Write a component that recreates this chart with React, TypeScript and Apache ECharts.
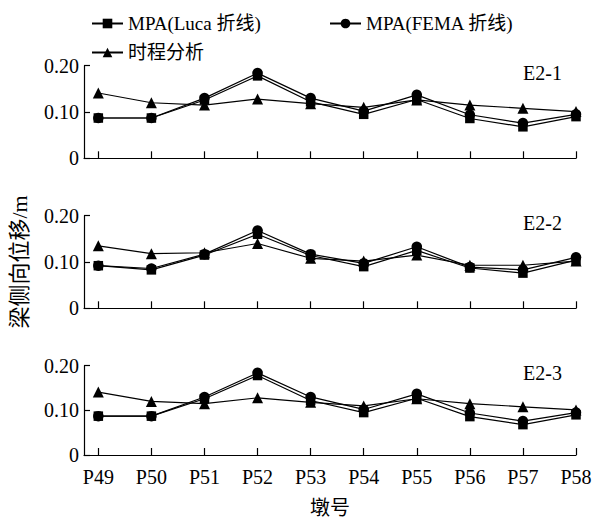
import React, { useEffect, useRef } from "react";
import * as echarts from "echarts";

const categories = ["P49", "P50", "P51", "P52", "P53", "P54", "P55", "P56", "P57", "P58"];
const seriesNames = ["MPA(Luca 折线)", "MPA(FEMA 折线)", "时程分析"];
const panelLabels = ["E2-1", "E2-2", "E2-3"];

const lucaE21 = [0.087, 0.087, 0.126, 0.178, 0.122, 0.095, 0.127, 0.086, 0.068, 0.090];
const femaE21 = [0.087, 0.087, 0.130, 0.184, 0.130, 0.102, 0.137, 0.094, 0.076, 0.095];
const thE21 = [0.141, 0.120, 0.115, 0.128, 0.118, 0.110, 0.126, 0.115, 0.108, 0.101];

const lucaE22 = [0.092, 0.083, 0.115, 0.160, 0.114, 0.090, 0.125, 0.087, 0.076, 0.104];
const femaE22 = [0.092, 0.086, 0.117, 0.168, 0.117, 0.097, 0.133, 0.089, 0.083, 0.110];
const thE22 = [0.135, 0.118, 0.120, 0.140, 0.108, 0.102, 0.115, 0.093, 0.093, 0.102];

const lucaE23 = [0.087, 0.087, 0.126, 0.178, 0.122, 0.095, 0.127, 0.086, 0.068, 0.090];
const femaE23 = [0.087, 0.087, 0.130, 0.184, 0.130, 0.102, 0.137, 0.094, 0.076, 0.095];
const thE23 = [0.141, 0.120, 0.115, 0.128, 0.118, 0.110, 0.126, 0.115, 0.108, 0.101];

const yTicks = [0, 0.1, 0.2];

const panels = [
  [lucaE21, femaE21, thE21],
  [lucaE22, femaE22, thE22],
  [lucaE23, femaE23, thE23],
];

const FONT = "Liberation Serif, Noto Sans CJK SC, serif";
const symbols = ["rect", "circle", "triangle"];
const symbolSizes = [9.5, 10.5, 11];

export default function App() {
  const ref = useRef<HTMLDivElement>(null);
  useEffect(() => {
    if (!ref.current) return;
    const chart = echarts.init(ref.current, null, { renderer: "svg" });
    const gridTops = [65.7, 215.7, 365.7];
    const gridH = 92.6;
    const grids = gridTops.map((t) => ({ left: 84, top: t, width: 492, height: gridH }));
    const tickIdx = categories.map((_, i) => i);
    const xAxes = gridTops.map((_, g) => ({
      type: "value",
      gridIndex: g,
      min: -0.27,
      max: categories.length - 1,
      splitLine: { show: false },
      axisLine: { show: true, onZero: false, lineStyle: { color: "#000", width: 1.2 } },
      axisTick: { show: true, inside: true, length: 7, customValues: tickIdx, lineStyle: { color: "#000", width: 1.2 } },
      axisLabel: {
        show: g === 2,
        customValues: tickIdx,
        formatter: (v: number) => categories[Math.round(v)] ?? "",
        color: "#000",
        fontSize: 20,
        fontFamily: FONT,
        margin: 12,
      },
      name: g === 2 ? "墩号" : "",
      nameLocation: "middle",
      nameGap: 43,
      nameTextStyle: { color: "#000", fontSize: 20, fontFamily: FONT },
    }));
    const yAxes = gridTops.map((_, g) => ({
      type: "value",
      gridIndex: g,
      min: 0,
      max: 0.2,
      interval: 0.1,
      splitLine: { show: false },
      axisLine: { show: true, onZero: false, lineStyle: { color: "#000", width: 1.2 } },
      axisTick: { show: true, inside: true, length: 6, lineStyle: { color: "#000", width: 1.2 } },
      axisLabel: {
        color: "#000",
        fontSize: 20,
        fontFamily: FONT,
        margin: 5,
        formatter: (v: number) => (v === 0 ? "0" : v.toFixed(2)),
        customValues: yTicks,
      },
      name: g === 1 ? "梁侧向位移/m" : "",
      nameLocation: "middle",
      nameRotate: 90,
      nameGap: 54,
      nameTextStyle: { color: "#000", fontSize: 22, fontFamily: FONT },
    }));
    const series: any[] = [];
    panels.forEach((arrs, g) => {
      arrs.forEach((arr, k) => {
        series.push({
          type: "line",
          name: seriesNames[k],
          xAxisIndex: g,
          yAxisIndex: g,
          data: arr.map((v, i) => [i, v]),
          symbol: symbols[k],
          symbolSize: symbolSizes[k],
          showSymbol: true,
          itemStyle: { color: "#000" },
          lineStyle: { color: "#000", width: 1.2 },
          z: 3 - k,
        });
      });
    });
    const legendBase = {
      itemWidth: 31,
      itemHeight: 12,
      textStyle: { color: "#000", fontSize: 19, fontFamily: FONT },
      padding: 0,
    };
    chart.setOption({
      animation: false,
      backgroundColor: "#fff",
      grid: grids,
      xAxis: xAxes,
      yAxis: yAxes,
      legend: [
        { ...legendBase, data: [seriesNames[0]], left: 91, top: 14 },
        { ...legendBase, data: [seriesNames[1]], left: 329, top: 14 },
        { ...legendBase, data: [seriesNames[2]], left: 91, top: 43 },
      ],
      graphic: gridTops.map((t, g) => ({
        type: "text",
        right: 595 - 562,
        top: t - 3,
        style: { text: panelLabels[g], fill: "#000", fontSize: 20, fontFamily: FONT },
      })),
      series,
    });
    return () => chart.dispose();
  }, []);
  return <div ref={ref} style={{ position: "fixed", left: 0, top: 0, width: 595, height: 519 }} />;
}
